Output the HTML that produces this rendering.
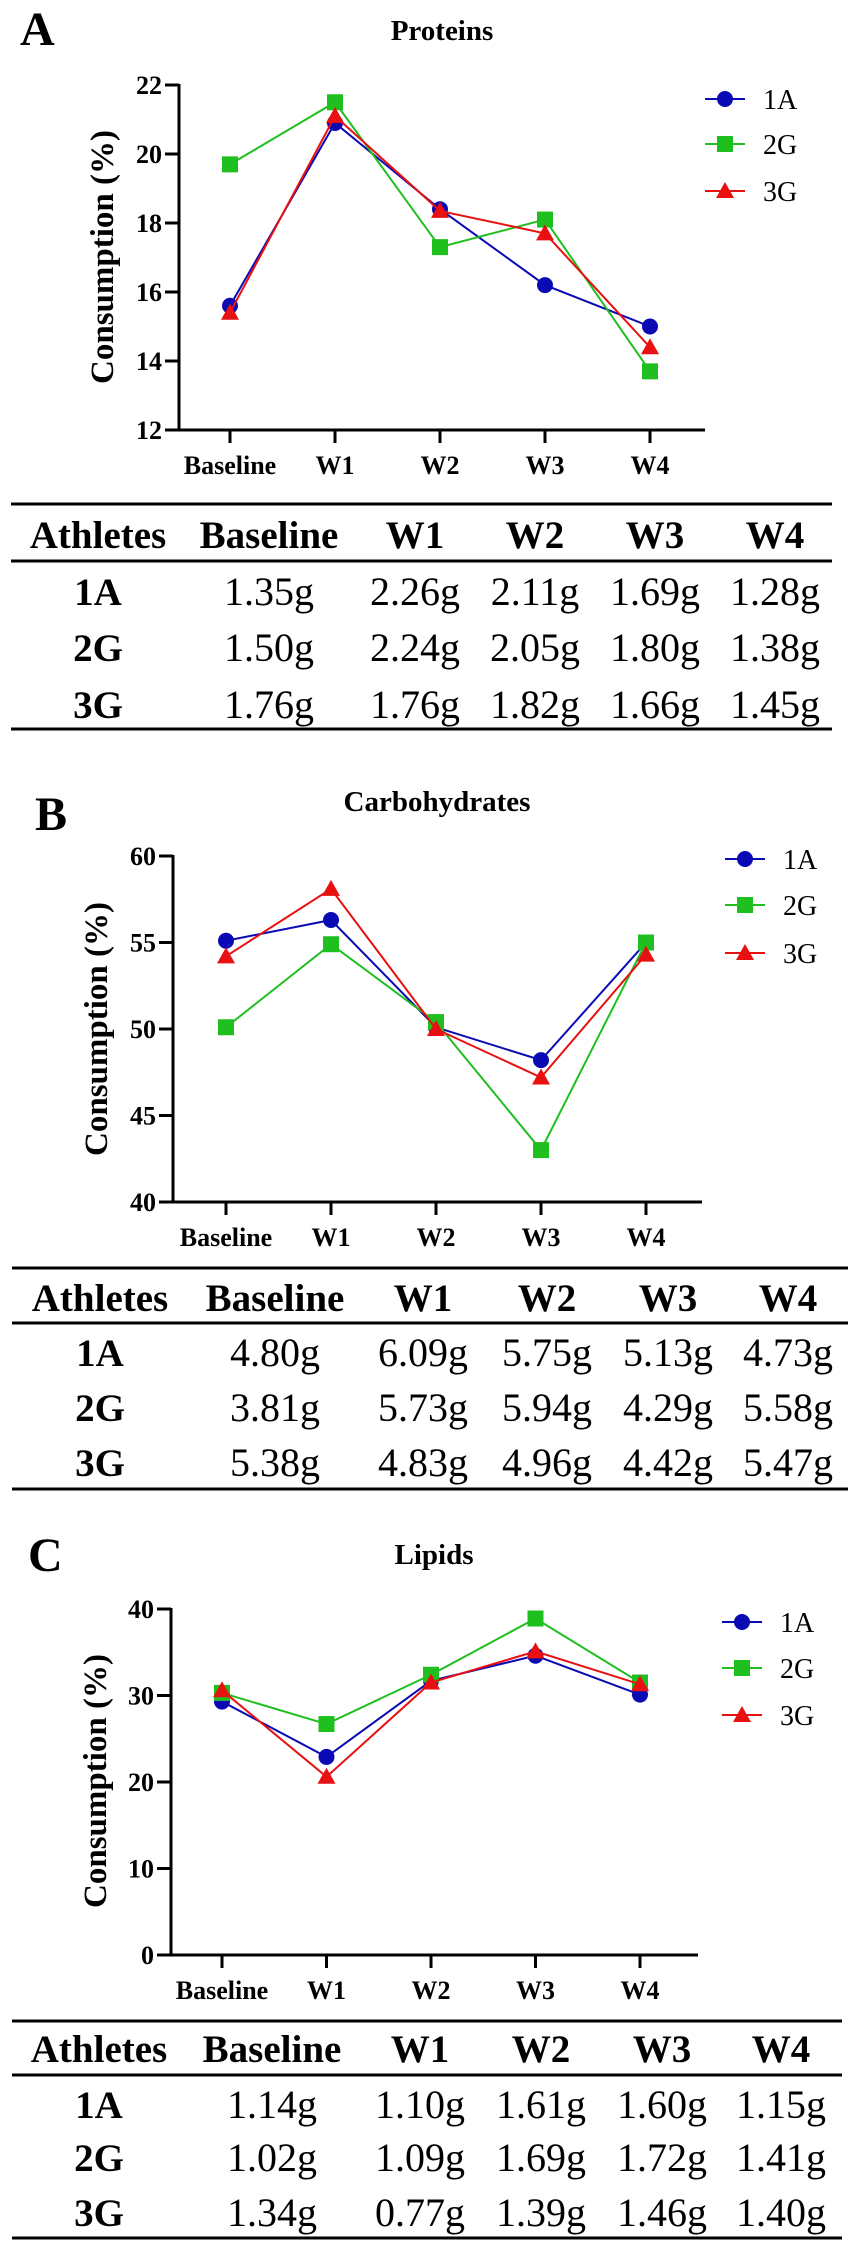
<!DOCTYPE html>
<html><head><meta charset="utf-8"><style>
html,body{margin:0;padding:0;background:#fff;}
svg{display:block;font-family:"Liberation Serif",serif;}
</style></head><body>
<svg id="fig" width="851" height="2252" viewBox="0 0 851 2252" xmlns="http://www.w3.org/2000/svg"></svg>
<script>
const categories = ["Baseline","W1","W2","W3","W4"];
const seriesNames = ["1A","2G","3G"];
// Panel A: Proteins
const protein1A = [15.6, 20.9, 18.4, 16.2, 15.0];
const protein2G = [19.7, 21.5, 17.3, 18.1, 13.7];
const protein3G = [15.4, 21.1, 18.35, 17.7, 14.4];
const proteinTicks = [12, 14, 16, 18, 20, 22];
// Panel B: Carbohydrates
const carb1A = [55.1, 56.3, 50.1, 48.2, 55.0];
const carb2G = [50.1, 54.9, 50.4, 43.0, 55.0];
const carb3G = [54.2, 58.1, 50.0, 47.2, 54.3];
const carbTicks = [40, 45, 50, 55, 60];
// Panel C: Lipids
const lipid1A = [29.3, 22.9, 31.7, 34.6, 30.1];
const lipid2G = [30.3, 26.7, 32.4, 38.9, 31.5];
const lipid3G = [30.6, 20.6, 31.5, 35.1, 31.3];
const lipidTicks = [0, 10, 20, 30, 40];
// Tables
const tableHeader = ["Athletes","Baseline","W1","W2","W3","W4"];
const proteinTable = [["1.35g","2.26g","2.11g","1.69g","1.28g"],["1.50g","2.24g","2.05g","1.80g","1.38g"],["1.76g","1.76g","1.82g","1.66g","1.45g"]];
const carbTable = [["4.80g","6.09g","5.75g","5.13g","4.73g"],["3.81g","5.73g","5.94g","4.29g","5.58g"],["5.38g","4.83g","4.96g","4.42g","5.47g"]];
const lipidTable = [["1.14g","1.10g","1.61g","1.60g","1.15g"],["1.02g","1.09g","1.69g","1.72g","1.41g"],["1.34g","0.77g","1.39g","1.46g","1.40g"]];

const NS = "http://www.w3.org/2000/svg";
const svg = document.getElementById("fig");
const colors = ["#0a0ab4", "#1fbf1f", "#e81010"];
function mk(tag, attrs, parent, text){
  const e = document.createElementNS(NS, tag);
  for (const k in attrs) e.setAttribute(k, attrs[k]);
  if (text !== undefined) e.textContent = text;
  (parent || svg).appendChild(e);
  return e;
}
function marker(g, type, x, y, color){
  let m;
  if (type === 0) m = mk("circle", {cx:x, cy:y, r:8, fill:color}, g);
  else if (type === 1) m = mk("rect", {x:x-8, y:y-8, width:16, height:16, fill:color}, g);
  else m = mk("polygon", {points:`${x},${y-9} ${x+9},${y+7} ${x-9},${y+7}`, fill:color}, g);
  return m;
}
function panel(p){
  const g = mk("g", {});
  
  
  const L = mk("text", {x:p.letterX, y:p.letterY, "font-size":48, "font-weight":"bold"}, g, p.letter);
  
  
  const T = mk("text", {x:p.titleX, y:p.titleY, "font-size":29, "font-weight":"bold", "text-anchor":"middle"}, g, p.title);
  
  
  const ymin = p.ticks[0], ymax = p.ticks[p.ticks.length-1];
  const yS = v => p.yBot - (v - ymin) / (ymax - ymin) * (p.yBot - p.yTop);
  const xS = i => p.x0 + i * p.dx;
  const ax = mk("path", {d:`M${p.axisX},${p.yTop-1} V${p.yBot} H${p.xEnd}`, stroke:"#000", "stroke-width":3, fill:"none"}, g);
  
  
  p.ticks.forEach(t => {
    const y = yS(t);
    mk("line", {x1:p.axisX-14, x2:p.axisX, y1:y, y2:y, stroke:"#000", "stroke-width":3}, g);
    const tl = mk("text", {x:p.axisX-17, y:y+9, "font-size":26, "font-weight":"bold", "text-anchor":"end"}, g, String(t));
    
    
  });
  categories.forEach((c, i) => {
    const x = xS(i);
    mk("line", {x1:x, x2:x, y1:p.yBot, y2:p.yBot+13, stroke:"#000", "stroke-width":3}, g);
    const tl = mk("text", {x:x, y:p.yBot+44, "font-size":26, "font-weight":"bold", "text-anchor":"middle"}, g, c);
    
    
  });
  const yt = mk("text", {x:0, y:0, "font-size":33, "font-weight":"bold", "text-anchor":"middle", transform:`translate(${p.ytX},${p.ytY}) rotate(-90)`}, g, "Consumption (%)");
  
  
  p.series.forEach((vals, s) => {
    const sg = mk("g", {}, g);
    
    
    const pts = vals.map((v, i) => `${xS(i)},${yS(v)}`).join(" ");
    mk("polyline", {points:pts, fill:"none", stroke:colors[s], "stroke-width":2}, sg);
    vals.forEach((v, i) => {
      const m = marker(sg, s, xS(i), yS(v), colors[s]);
      
      
    });
  });
  seriesNames.forEach((n, s) => {
    const lg = mk("g", {}, g);
    
    
    const y = p.legY[s];
    mk("line", {x1:p.legX-20, x2:p.legX+20, y1:y, y2:y, stroke:colors[s], "stroke-width":2}, lg);
    marker(lg, s, p.legX, y, colors[s]);
    mk("text", {x:p.legX+38, y:y+10, "font-size":28}, lg, n);
  });
  const tg = mk("g", {}, g);
  
  
  [p.tTop, p.tHead, p.tBot].forEach(y => mk("line", {x1:p.tL, x2:p.tR, y1:y, y2:y, stroke:"#000", "stroke-width":3}, tg));
  tableHeader.forEach((h, i) => {
    const t = mk("text", {x:p.cols[i], y:p.hY+13, "font-size":39, "font-weight":"bold", "text-anchor":"middle"}, tg, h);
    
    
  });
  p.table.forEach((row, r) => {
    const y = p.rowY[r] + 13;
    const lab = mk("text", {x:p.cols[0], y:y, "font-size":39, "font-weight":"bold", "text-anchor":"middle"}, tg, seriesNames[r]);
    
    
    row.forEach((v, i) => {
      const c = mk("text", {x:p.cols[i+1], y:y, "font-size":40, "text-anchor":"middle"}, tg, v);
      
      
    });
  });
}
panel({name:"proteins", letter:"A", letterX:20, letterY:45, title:"Proteins", titleX:442, titleY:40,
  ticks:proteinTicks, yTop:85, yBot:430, axisX:179, xEnd:705, x0:230, dx:105,
  ytX:113, ytY:257, series:[protein1A, protein2G, protein3G], legX:725, legY:[99,144,191],
  tTop:504, tHead:561, tBot:729, tL:11, tR:832, hY:535, rowY:[592,648,705],
  cols:[98,269,415,535,655,775], table:proteinTable});
panel({name:"carbohydrates", letter:"B", letterX:35, letterY:830, title:"Carbohydrates", titleX:437, titleY:811,
  ticks:carbTicks, yTop:856, yBot:1202, axisX:173, xEnd:702, x0:226, dx:105,
  ytX:107, ytY:1029, series:[carb1A, carb2G, carb3G], legX:745, legY:[859,905,953],
  tTop:1268, tHead:1323, tBot:1489, tL:12, tR:848, hY:1298, rowY:[1353,1408,1463],
  cols:[100,275,423,547,668,788], table:carbTable});
panel({name:"lipids", letter:"C", letterX:28, letterY:1571, title:"Lipids", titleX:434, titleY:1564,
  ticks:lipidTicks, yTop:1609, yBot:1955, axisX:171, xEnd:698, x0:222, dx:104.5,
  ytX:106, ytY:1781, series:[lipid1A, lipid2G, lipid3G], legX:742, legY:[1622,1668,1715],
  tTop:2021, tHead:2075, tBot:2238, tL:12, tR:842, hY:2049, rowY:[2105,2158,2213],
  cols:[99,272,420,541,662,781], table:lipidTable});
</script>
</body></html>
